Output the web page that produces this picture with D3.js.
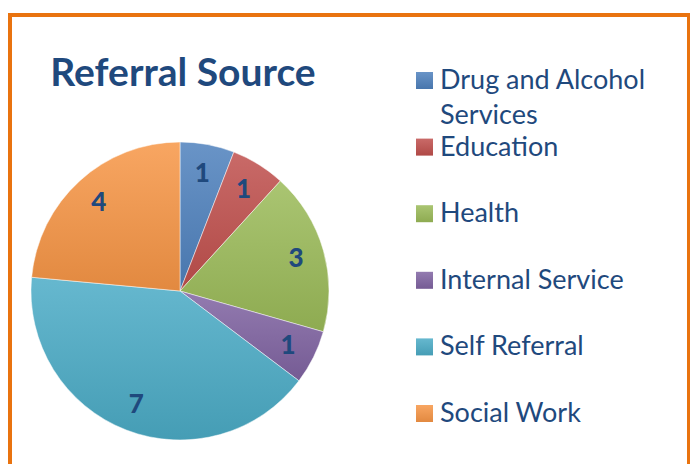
<!DOCTYPE html>
<html lang="en">
  <head>
    <meta charset="utf-8">
    <title>Referral Source</title>
    <script src="https://cdnjs.cloudflare.com/ajax/libs/d3/7.8.5/d3.min.js"></script>
    <style>
      body { margin: 0; background: #fff; }
      svg { display: block; }
    </style>
  </head>
<body>
  <svg id="chart" width="690" height="464"></svg>
  <script>
    // chart data
    var categories = ["Drug and Alcohol Services", "Education", "Health", "Internal Service", "Self Referral", "Social Work"];
    var values = [1, 1, 3, 1, 7, 4];
    var colors = ["#4F81BD", "#C0504D", "#9BBB59", "#8064A2", "#4BACC6", "#F79646"];
    var title = "Referral Source";

    var svg = d3.select("#chart"),
        width = +svg.attr("width"),
        height = +svg.attr("height"),
        textColor = "#1F497D",
        font = "Lato, 'Open Sans', sans-serif";

    // orange frame, runs off the bottom of the picture
    svg.append("rect")
      .attr("x", 10).attr("y", 15)
      .attr("width", width - 11).attr("height", height + 20)
      .attr("fill", "none")
      .attr("stroke", "#E9730F")
      .attr("stroke-width", 4);

    // gradients, lighter at top
    var defs = svg.append("defs");
    colors.forEach(function (c, i) {
      var g = defs.append("linearGradient")
        .attr("id", "grad" + i)
        .attr("x1", 0).attr("y1", 0).attr("x2", 0).attr("y2", 1);
      g.append("stop").attr("offset", "0%")
        .attr("stop-color", d3.interpolateRgb(c, "#fff")(0.15));
      g.append("stop").attr("offset", "100%")
        .attr("stop-color", d3.color(c).darker(0.25));
    });

    var cx = 180, cy = 291, r = 149;

    var pie = d3.pie().sort(null).value(function (d) { return d; });
    var arc = d3.arc().innerRadius(0).outerRadius(r);
    var labelArc = d3.arc().innerRadius(r * 0.81).outerRadius(r * 0.81);
    var arcs = pie(values);

    var g = svg.append("g").attr("transform", "translate(" + cx + "," + cy + ")");

    g.selectAll("path")
      .data(arcs)
      .enter().append("path")
      .attr("d", arc)
      .attr("fill", function (d, i) { return "url(#grad" + i + ")"; })
      .attr("stroke", "#fff")
      .attr("stroke-opacity", 0.6)
      .attr("stroke-width", 0.8);

    g.selectAll("text")
      .data(arcs)
      .enter().append("text")
      .attr("x", function (d) { return labelArc.centroid(d)[0]; })
      .attr("y", function (d) { return labelArc.centroid(d)[1]; })
      .attr("dy", "0.36em")
      .attr("text-anchor", "middle")
      .attr("font-family", font)
      .attr("font-weight", 900)
      .attr("font-size", 26)
      .attr("fill", textColor)
      .text(function (d) { return d.data; });

    svg.append("text")
      .attr("x", 183).attr("y", 86)
      .attr("text-anchor", "middle")
      .attr("font-family", font)
      .attr("font-weight", "bold")
      .attr("font-size", 39)
      .attr("fill", textColor)
      .text(title);

    // legend
    var ly = d3.scalePoint().domain(categories).range([89, 422]);
    var legend = svg.append("g");
    var item = legend.selectAll("g")
      .data(categories)
      .enter().append("g")
      .attr("transform", function (d) { return "translate(0," + ly(d) + ")"; });

    item.append("rect")
      .attr("x", 416).attr("y", -17)
      .attr("width", 17).attr("height", 17)
      .attr("fill", function (d, i) { return "url(#grad" + i + ")"; });

    item.append("text")
      .attr("x", 440)
      .attr("font-family", font)
      .attr("font-size", 27)
      .attr("fill", textColor)
      .each(function (d) {
        // simple word wrap
        var t = d3.select(this), words = d.split(" "), line = [], lineNo = 0;
        var ts = t.append("tspan").attr("x", 440).attr("y", 0);
        words.forEach(function (w) {
          line.push(w);
          ts.text(line.join(" "));
          if (ts.node().getComputedTextLength() > 230 && line.length > 1) {
            line.pop();
            ts.text(line.join(" "));
            line = [w];
            lineNo++;
            ts = t.append("tspan").attr("x", 440).attr("y", lineNo * 35).text(w);
          }
        });
      });
  </script>
</body>
</html>
